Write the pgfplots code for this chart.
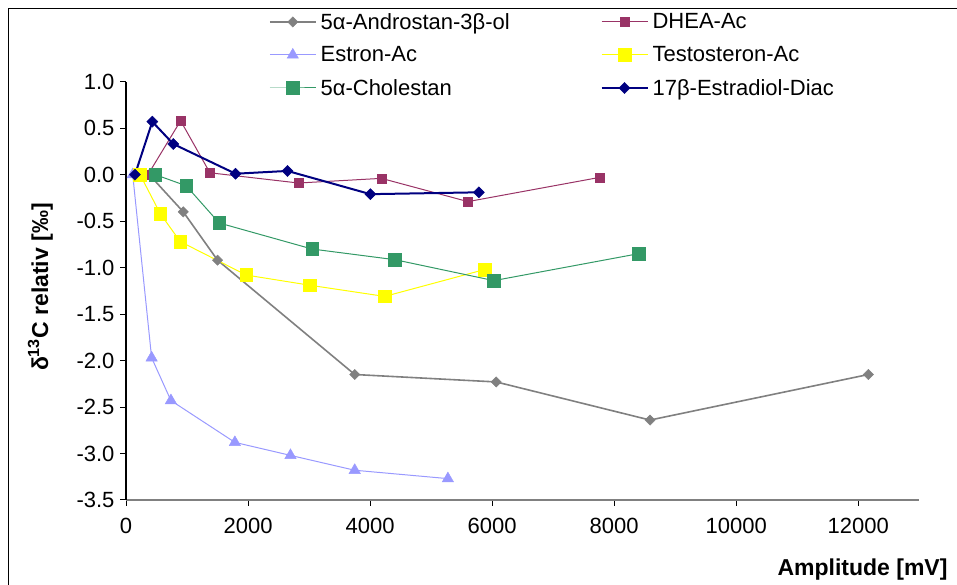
\documentclass[border=0pt]{standalone}
\usepackage{pgfplots}
\pgfplotsset{compat=1.18}
\usepackage{fontspec}
\setmainfont{Liberation Sans}
\definecolor{cgray}{HTML}{808080}
\definecolor{cmaroon}{HTML}{993366}
\definecolor{cblue}{HTML}{9999FF}
\definecolor{cyellow}{HTML}{FFFF00}
\definecolor{cgreen}{HTML}{339966}
\definecolor{cnavy}{HTML}{000080}
\begin{document}
\begin{tikzpicture}[x=1pt,y=1pt]
\useasboundingbox (0,0) rectangle (957,585);
\draw[black, line width=1.2pt] (8.5,-10) -- (8.5,576.5) -- (970,576.5);
\begin{axis}[
  at={(126pt,85pt)}, anchor=south west,
  scale only axis, width=793.3pt, height=418.3pt,
  xmin=0, xmax=13000, ymin=-3.5, ymax=1.0,
  axis lines*=left,
  x axis line style={cgray, line width=2pt},
  y axis line style={black, line width=1.2pt},
  xtick={0,2000,...,12000},
  ytick={-3.5,-3,...,1},
  tick align=outside, major tick length=6pt,
  every tick/.style={black, line width=1pt},
  scaled x ticks=false,
  /pgf/number format/assume math mode=true,
  x tick label style={font=\fontsize{22}{26}\selectfont, /pgf/number format/1000 sep={}, yshift=-9pt},
  y tick label style={font=\fontsize{22}{26}\selectfont, xshift=-2pt, /pgf/number format/.cd, fixed, fixed zerofill, precision=1},
  xlabel={\textbf{Amplitude [mV]}},
  xlabel style={font=\fontsize{23}{27}\selectfont, at={(axis description cs:1.04,-0.167)}, anchor=east},
  ylabel={\textbf{δ\textsuperscript{13}C relativ [‰]}},
  ylabel style={font=\fontsize{23}{27}\selectfont, at={(axis description cs:-0.108,0.509)}, anchor=center, rotate=0},
  legend columns=2,
  legend cell align=left,
  legend image code/.code={\draw[mark repeat=2,mark phase=2,#1] plot coordinates {(0pt,0pt) (23pt,0pt) (46pt,0pt)};},
  legend style={at={(axis description cs:0.180,1.169)}, anchor=north west, draw=none, fill=none,
    font=\fontsize{22}{26}\selectfont, inner sep=0pt, row sep=12pt,
    nodes={text width=270pt, align=left, inner xsep=4pt},
    /tikz/every even column/.append style={column sep=6pt}},
]
\addplot[cgray, line width=1.6pt, mark=square*, mark size=3.6pt, mark options={rotate=45, solid, fill=cgray, draw=cgray, line width=0.5pt}]
  coordinates {(380,0) (938,-0.40) (1500,-0.92) (3748,-2.15) (6067,-2.23) (8587,-2.64) (12165,-2.15)};
\addlegendentry{5α-Androstan-3β-ol}
\addplot[cmaroon, line width=1pt, mark=square*, mark size=4.6pt, mark options={fill=cmaroon, draw=cmaroon, line width=0.5pt}]
  coordinates {(360,0) (895,0.58) (1375,0.02) (2826,-0.09) (4185,-0.04) (5603,-0.29) (7758,-0.03)};
\addlegendentry{DHEA-Ac}
\addplot[cblue, line width=1pt, mark=triangle*, mark size=6.5pt, mark options={fill=cblue, draw=cblue, line width=0.5pt}]
  coordinates {(110,0) (420,-1.97) (736,-2.43) (1784,-2.88) (2695,-3.02) (3748,-3.18) (5275,-3.27)};
\addlegendentry{Estron-Ac}
\addplot[cyellow, line width=1pt, mark=square*, mark size=6.3pt, mark options={fill=cyellow, draw=cyellow, line width=0.5pt}]
  coordinates {(230,0) (562,-0.42) (889,-0.72) (1969,-1.08) (3016,-1.19) (4239,-1.31) (5881,-1.02)};
\addlegendentry{Testosteron-Ac}
\addplot[cgreen, line width=1pt, mark=square*, mark size=6.3pt, mark options={fill=cgreen, draw=cgreen, line width=0.5pt}]
  coordinates {(480,0) (987,-0.12) (1527,-0.52) (3049,-0.80) (4408,-0.915) (6028,-1.14) (8401,-0.85)};
\addlegendentry{5α-Cholestan}
\addplot[cnavy, line width=2pt, mark=square*, mark size=3.9pt, mark options={rotate=45, fill=cnavy, draw=cnavy, line width=0.5pt}]
  coordinates {(147,0) (431,0.57) (775,0.33) (1795,0.01) (2646,0.04) (4005,-0.21) (5782,-0.19)};
\addlegendentry{17β-Estradiol-Diac}
\end{axis}
\end{tikzpicture}
\end{document}
